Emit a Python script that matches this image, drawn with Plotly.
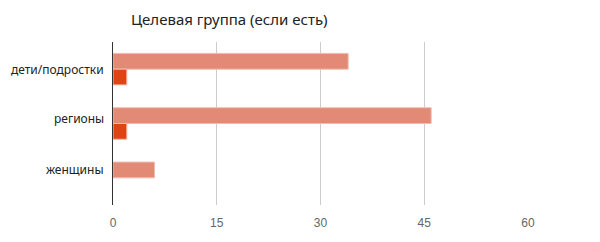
import plotly.graph_objects as go

categories = ["дети/подростки", "регионы", "женщины"]
series_a = [34, 46, 6]
series_b = [2, 2, 0]
x_ticks = [0, 15, 30, 45, 60]
title_text = "Целевая группа (если есть)"
label_shift = [0, 5, 8]

fig = go.Figure()
fig.add_trace(go.Bar(
    y=categories, x=series_a, orientation="h",
    marker=dict(color="#E28A76", line=dict(color="#F0BBAE", width=1)),
    showlegend=False, hoverinfo="skip",
))
fig.add_trace(go.Bar(
    y=categories, x=[v if v else None for v in series_b], orientation="h",
    marker=dict(color="#E04415", line=dict(color="#F0BBAE", width=1)),
    showlegend=False, hoverinfo="skip",
))

for cat, sh in zip(categories, label_shift):
    fig.add_annotation(
        text=cat, xref="paper", x=0, xanchor="right", xshift=-7,
        yref="y", y=cat, yanchor="middle", yshift=sh, showarrow=False,
        font=dict(family="Noto Sans, Open Sans, sans-serif", size=12, color="#222222"),
    )

fig.update_layout(
    width=600, height=242,
    margin=dict(l=113, r=72, t=42, b=32),
    paper_bgcolor="white", plot_bgcolor="white",
    barmode="group", bargap=0.42, bargroupgap=0.0,
    title=dict(text=title_text, x=131 / 600, xanchor="left", y=1 - 20 / 242, yanchor="middle",
               font=dict(family="Noto Sans, Open Sans, sans-serif", size=15, color="#222222")),
    xaxis=dict(range=[0, 60], tickvals=x_ticks, ticktext=[str(v) for v in x_ticks],
               showgrid=True, gridcolor="#CCCCCC", gridwidth=1,
               zeroline=False, showline=False, ticks="", ticklabelstandoff=9,
               tickfont=dict(family="Liberation Sans, Arial, sans-serif", size=12, color="#666666")),
    yaxis=dict(autorange="reversed", showgrid=False, zeroline=False,
               showline=True, linecolor="#333333", linewidth=1, ticks="",
               showticklabels=False),
)

fig.write_html("out.html")
